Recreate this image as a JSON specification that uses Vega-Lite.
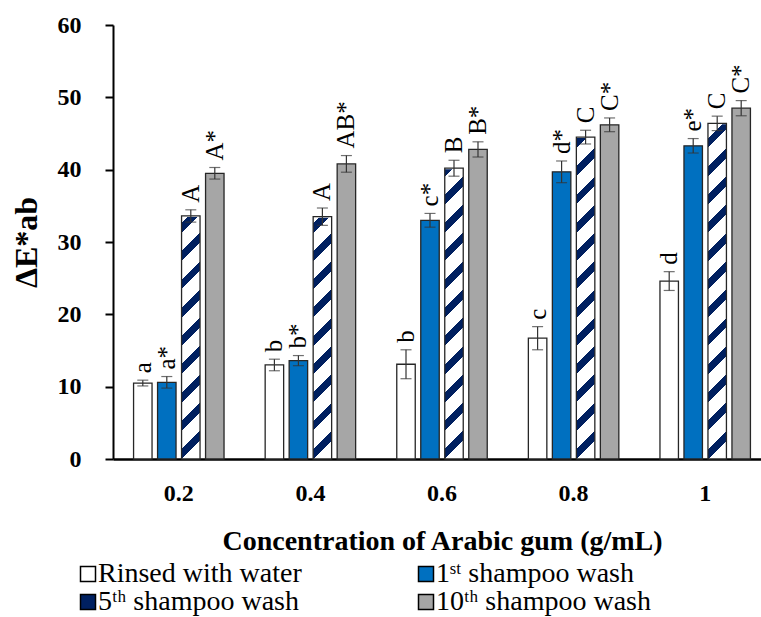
{
  "$schema": "https://vega.github.io/schema/vega-lite/v6.json",
  "autosize": "none",
  "width": 648,
  "height": 434,
  "padding": {"left": 113, "top": 25, "right": 0, "bottom": 158},
  "background": "white",
  "config": {"font": "Liberation Serif", "view": {"stroke": null}},
  "data": {
    "values": [
      {"conc": "0.2", "series": "Rinsed with water", "mean": 10.5, "err": 0.4, "label": "a"},
      {"conc": "0.2", "series": "1ˢᵗ shampoo wash", "mean": 10.6, "err": 0.8, "label": "a*"},
      {"conc": "0.2", "series": "5ᵗʰ shampoo wash", "mean": 33.6, "err": 0.85, "label": "A"},
      {"conc": "0.2", "series": "10ᵗʰ shampoo wash", "mean": 39.5, "err": 0.8, "label": "A*"},
      {"conc": "0.4", "series": "Rinsed with water", "mean": 13.0, "err": 0.8, "label": "b"},
      {"conc": "0.4", "series": "1ˢᵗ shampoo wash", "mean": 13.6, "err": 0.7, "label": "b*"},
      {"conc": "0.4", "series": "5ᵗʰ shampoo wash", "mean": 33.5, "err": 1.2, "label": "A"},
      {"conc": "0.4", "series": "10ᵗʰ shampoo wash", "mean": 40.8, "err": 1.15, "label": "AB*"},
      {"conc": "0.6", "series": "Rinsed with water", "mean": 13.1, "err": 2.0, "label": "b"},
      {"conc": "0.6", "series": "1ˢᵗ shampoo wash", "mean": 33.0, "err": 0.95, "label": "c*"},
      {"conc": "0.6", "series": "5ᵗʰ shampoo wash", "mean": 40.2, "err": 1.1, "label": "B"},
      {"conc": "0.6", "series": "10ᵗʰ shampoo wash", "mean": 42.8, "err": 1.05, "label": "B*"},
      {"conc": "0.8", "series": "Rinsed with water", "mean": 16.7, "err": 1.6, "label": "c"},
      {"conc": "0.8", "series": "1ˢᵗ shampoo wash", "mean": 39.7, "err": 1.5, "label": "d*"},
      {"conc": "0.8", "series": "5ᵗʰ shampoo wash", "mean": 44.5, "err": 0.95, "label": "C"},
      {"conc": "0.8", "series": "10ᵗʰ shampoo wash", "mean": 46.2, "err": 0.95, "label": "C*"},
      {"conc": "1", "series": "Rinsed with water", "mean": 24.6, "err": 1.3, "label": "d"},
      {"conc": "1", "series": "1ˢᵗ shampoo wash", "mean": 43.3, "err": 1.0, "label": "e*"},
      {"conc": "1", "series": "5ᵗʰ shampoo wash", "mean": 46.4, "err": 1.0, "label": "C"},
      {"conc": "1", "series": "10ᵗʰ shampoo wash", "mean": 48.5, "err": 1.05, "label": "C*"}
    ]
  },
  "encoding": {
    "x": {
      "field": "conc", "type": "nominal", "sort": null,
      "scale": {"range": [0, 658], "paddingInner": 0, "paddingOuter": 0},
      "axis": {
        "title": "Concentration of Arabic gum (g/mL)",
        "labelAngle": 0, "ticks": false, "tickSize": 0,
        "domainColor": "black", "domainWidth": 2.5,
        "labelFont": "Liberation Serif", "labelFontWeight": "bold", "labelFontSize": 24, "labelColor": "black",
        "labelPadding": 22,
        "titleFont": "Liberation Serif", "titleFontWeight": "bold", "titleFontSize": 28, "titleColor": "black",
        "titlePadding": 22
      }
    },
    "xOffset": {
      "field": "series", "type": "nominal",
      "scale": {"domain": ["Rinsed with water", "1ˢᵗ shampoo wash", "5ᵗʰ shampoo wash", "10ᵗʰ shampoo wash"], "paddingInner": 0.23, "paddingOuter": 0.857}
    }
  },
  "layer": [
    {
      "transform": [{"filter": "datum.series !== '5ᵗʰ shampoo wash'"}],
      "mark": {"type": "bar", "stroke": "#262626", "strokeWidth": 1.3},
      "encoding": {
        "y": {
          "field": "mean", "type": "quantitative", "title": "ΔE*ab",
          "scale": {"domain": [0, 60], "nice": false},
          "axis": {
            "title": "ΔE*ab", "values": [0, 10, 20, 30, 40, 50, 60], "grid": false,
            "domainColor": "black", "domainWidth": 2, "tickColor": "black", "tickWidth": 2, "tickSize": 8,
            "labelFont": "Liberation Serif", "labelFontWeight": "bold", "labelFontSize": 24, "labelColor": "black",
            "labelPadding": 24,
            "titleFont": "Liberation Serif", "titleFontWeight": "bold", "titleFontSize": 32, "titleColor": "black",
            "titlePadding": 14
          }
        },
        "color": {
          "field": "series", "type": "nominal",
          "scale": {
            "domain": ["Rinsed with water", "5ᵗʰ shampoo wash", "1ˢᵗ shampoo wash", "10ᵗʰ shampoo wash"],
            "range": ["#ffffff", "#002060", "#0070C0", "#A6A6A6"]
          },
          "legend": {
            "title": null, "orient": "none", "legendX": -39, "legendY": 535,
            "columns": 2, "columnPadding": 110, "rowPadding": 0,
            "symbolType": "square", "symbolSize": 225, "symbolStrokeColor": "black", "symbolStrokeWidth": 1.5,
            "symbolOpacity": 1,
            "labelFont": "Liberation Serif", "labelFontSize": 28, "labelColor": "black", "labelOffset": -4, "labelLimit": 400,
            "encode": {
              "symbols": {
                "update": {
                  "stroke": {"value": "black"},
                  "strokeWidth": {"value": 1.5}
                }
              }
            }
          }
        }
      }
    },
    {
      "transform": [{"filter": "datum.series === '5ᵗʰ shampoo wash'"}],
      "mark": {
        "type": "bar", "strokeWidth": 0,
        "fill": {
          "gradient": "linear", "x1": 0, "y1": 0, "x2": 0.04431, "y2": 1.04069,
          "stops": [
            {"offset": 0, "color": "#002060"}, {"offset": 0.0219, "color": "#002060"}, {"offset": 0.0219, "color": "#ffffff"}, {"offset": 0.0625, "color": "#ffffff"},
            {"offset": 0.0625, "color": "#002060"}, {"offset": 0.0844, "color": "#002060"}, {"offset": 0.0844, "color": "#ffffff"}, {"offset": 0.125, "color": "#ffffff"},
            {"offset": 0.125, "color": "#002060"}, {"offset": 0.1469, "color": "#002060"}, {"offset": 0.1469, "color": "#ffffff"}, {"offset": 0.1875, "color": "#ffffff"},
            {"offset": 0.1875, "color": "#002060"}, {"offset": 0.2094, "color": "#002060"}, {"offset": 0.2094, "color": "#ffffff"}, {"offset": 0.25, "color": "#ffffff"},
            {"offset": 0.25, "color": "#002060"}, {"offset": 0.2719, "color": "#002060"}, {"offset": 0.2719, "color": "#ffffff"}, {"offset": 0.3125, "color": "#ffffff"},
            {"offset": 0.3125, "color": "#002060"}, {"offset": 0.3344, "color": "#002060"}, {"offset": 0.3344, "color": "#ffffff"}, {"offset": 0.375, "color": "#ffffff"},
            {"offset": 0.375, "color": "#002060"}, {"offset": 0.3969, "color": "#002060"}, {"offset": 0.3969, "color": "#ffffff"}, {"offset": 0.4375, "color": "#ffffff"},
            {"offset": 0.4375, "color": "#002060"}, {"offset": 0.4594, "color": "#002060"}, {"offset": 0.4594, "color": "#ffffff"}, {"offset": 0.5, "color": "#ffffff"},
            {"offset": 0.5, "color": "#002060"}, {"offset": 0.5219, "color": "#002060"}, {"offset": 0.5219, "color": "#ffffff"}, {"offset": 0.5625, "color": "#ffffff"},
            {"offset": 0.5625, "color": "#002060"}, {"offset": 0.5844, "color": "#002060"}, {"offset": 0.5844, "color": "#ffffff"}, {"offset": 0.625, "color": "#ffffff"},
            {"offset": 0.625, "color": "#002060"}, {"offset": 0.6469, "color": "#002060"}, {"offset": 0.6469, "color": "#ffffff"}, {"offset": 0.6875, "color": "#ffffff"},
            {"offset": 0.6875, "color": "#002060"}, {"offset": 0.7094, "color": "#002060"}, {"offset": 0.7094, "color": "#ffffff"}, {"offset": 0.75, "color": "#ffffff"},
            {"offset": 0.75, "color": "#002060"}, {"offset": 0.7719, "color": "#002060"}, {"offset": 0.7719, "color": "#ffffff"}, {"offset": 0.8125, "color": "#ffffff"},
            {"offset": 0.8125, "color": "#002060"}, {"offset": 0.8344, "color": "#002060"}, {"offset": 0.8344, "color": "#ffffff"}, {"offset": 0.875, "color": "#ffffff"},
            {"offset": 0.875, "color": "#002060"}, {"offset": 0.8969, "color": "#002060"}, {"offset": 0.8969, "color": "#ffffff"}, {"offset": 0.9375, "color": "#ffffff"},
            {"offset": 0.9375, "color": "#002060"}, {"offset": 0.9594, "color": "#002060"}, {"offset": 0.9594, "color": "#ffffff"}, {"offset": 1, "color": "#ffffff"}
          ]
        }
      },
      "encoding": {
        "y": {"datum": 60, "type": "quantitative", "title": "ΔE*ab"},
        "y2": {"datum": 0}
      }
    },
    {
      "transform": [{"filter": "datum.series === '5ᵗʰ shampoo wash'"}],
      "mark": {"type": "bar", "fill": "#ffffff", "stroke": "#ffffff", "strokeWidth": 2},
      "encoding": {
        "y": {"field": "mean", "type": "quantitative", "title": "ΔE*ab"},
        "y2": {"datum": 60}
      }
    },
    {
      "transform": [{"filter": "datum.series === '5ᵗʰ shampoo wash'"}],
      "mark": {"type": "bar", "fill": "#ffffff", "fillOpacity": 0, "stroke": "#262626", "strokeWidth": 1.3},
      "encoding": {
        "y": {"field": "mean", "type": "quantitative", "title": "ΔE*ab"}
      }
    },
    {
      "mark": {"type": "errorbar", "ticks": {"size": 11}, "color": "#333333", "thickness": 1.2},
      "encoding": {
        "y": {"field": "mean", "type": "quantitative", "title": "ΔE*ab"},
        "yError": {"field": "err"}
      }
    },
    {
      "transform": [{"calculate": "datum.mean + datum.err", "as": "top"}],
      "mark": {"type": "text", "angle": 270, "align": "left", "baseline": "middle", "dx": 7, "fontSize": 25, "font": "Liberation Serif", "color": "black"},
      "encoding": {
        "y": {"field": "top", "type": "quantitative", "title": "ΔE*ab"},
        "text": {"field": "label"}
      }
    }
  ]
}
